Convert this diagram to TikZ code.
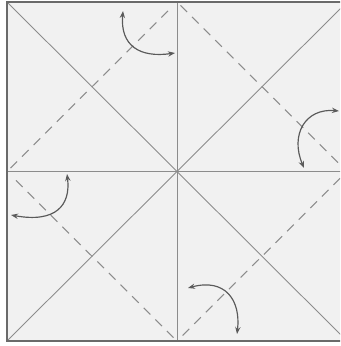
\documentclass[tikz,border=0pt]{standalone}
\usepackage{xcolor}
\usetikzlibrary{arrows.meta,calc}

\definecolor{foldgray}{HTML}{8C8C8C}
\definecolor{edgegray}{HTML}{6A6A6A}
\definecolor{arrowgray}{HTML}{5A5A5A}
\definecolor{papergray}{HTML}{F1F1F1}

\tikzset{
  crease/.style={draw=foldgray,line width=0.75pt},
  valley/.style={draw=foldgray,line width=0.9pt,dash pattern=on 8pt off 6pt},
  turnarrow/.style={draw=arrowgray,line width=1pt,{Stealth[length=6pt,width=4.5pt]}-{Stealth[length=6pt,width=4.5pt]}}
}

\begin{document}
\begin{tikzpicture}[x=0.03cm,y=-0.03cm]
\useasboundingbox (0,0) rectangle (340,346);
\clip (0,0) rectangle (340,346);

% paper corners and centre
\coordinate (tl) at (7,2);
\coordinate (tr) at (347,2);
\coordinate (bl) at (7,341);
\coordinate (br) at (347,341);
\coordinate (c) at (177,171.5);
\coordinate (tm) at (177,2);
\coordinate (bm) at (177,341);
\coordinate (lm) at (7,171.5);
\coordinate (rm) at (347,171.5);

\fill[papergray] (tl) rectangle (br);

% creases
\draw[crease] (tl) -- (br);
\draw[crease] (tr) -- (bl);
\draw[crease] (tm) -- (bm);
\draw[crease] (lm) -- (rm);

% fold lines
\draw[valley] ($(lm)!0.02!(tm)$) -- ($(lm)!0.95!(tm)$);
\draw[valley] ($(tm)!0.02!(rm)$) -- ($(tm)!0.95!(rm)$);
\draw[valley] ($(rm)!0.04!(bm)$) -- ($(rm)!0.97!(bm)$);
\draw[valley] ($(bm)!0.02!(lm)$) -- ($(bm)!0.95!(lm)$);

% edge of the sheet
\draw[edgegray,line width=1.7pt] (tl) rectangle (br);

% turn-over arrows
\draw[turnarrow] (123,11) .. controls (120,46) and (140,58) .. (175,53);
\draw[turnarrow] (339,111) .. controls (305,108) and (290,135) .. (304,168);
\draw[turnarrow] (67,174) .. controls (71,206) and (55,223) .. (11,215);
\draw[turnarrow] (188,288) .. controls (225,278) and (241,300) .. (237,334);
\end{tikzpicture}
\end{document}
